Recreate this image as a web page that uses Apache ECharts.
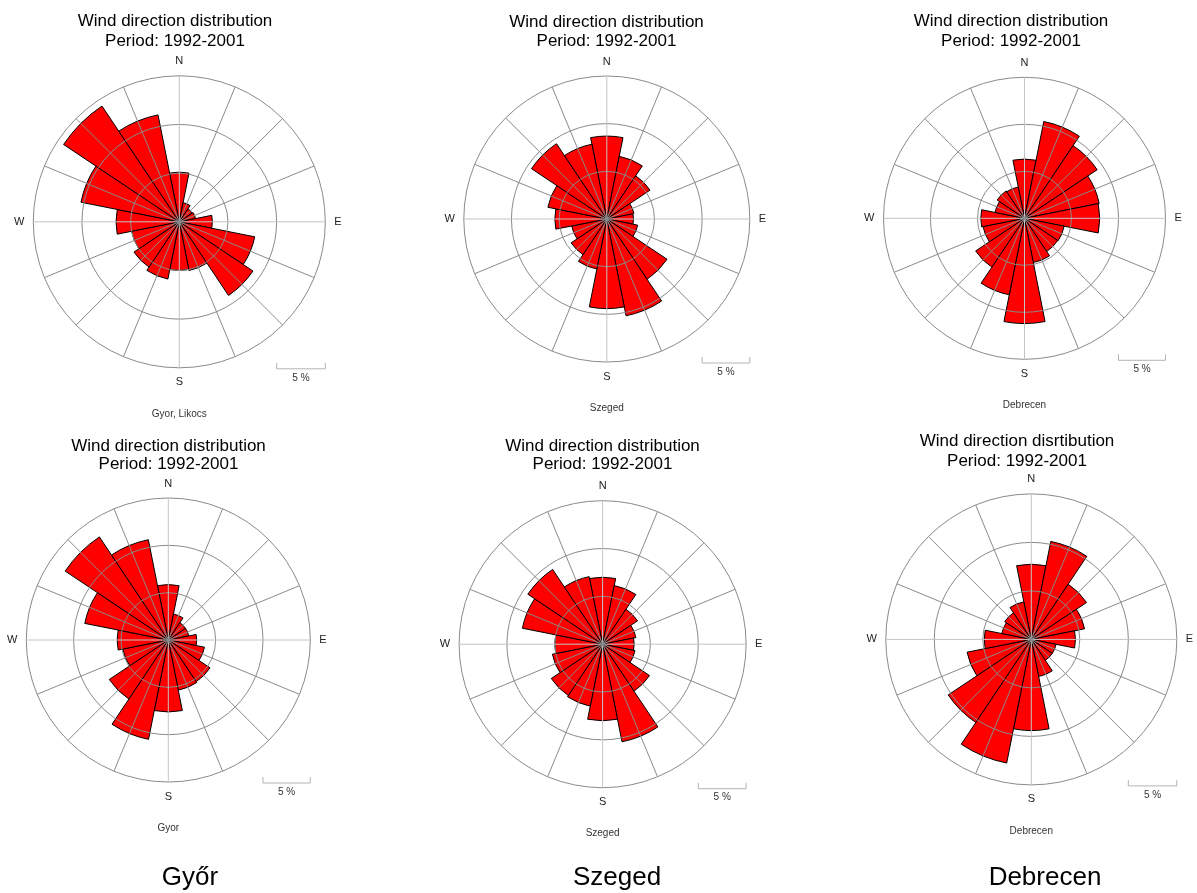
<!DOCTYPE html>
<html><head><meta charset="utf-8">
<script src="https://cdn.jsdelivr.net/npm/echarts@6/dist/echarts.min.js"></script>
<style>html,body{margin:0;padding:0;background:#fff}#c{width:1197px;height:893px}</style>
</head><body><div id="c"></div>
<script>
// ---- data (percent frequency per 22.5° sector, clockwise from N) ----
const directions = ['N','NNE','NE','ENE','E','ESE','SE','SSE','S','SSW','SW','WSW','W','WNW','NW','NNW'];
const gyorLikocs     = [5.1, 2.0, 1.6, 1.7, 3.4, 7.9, 9.1, 5.1, 5.0, 6.0, 5.6, 5.0, 6.5, 10.3, 14.3, 11.2];
const szegedTop      = [8.7, 6.7, 5.45, 2.9, 2.8, 3.3, 7.6, 10.35, 9.4, 5.35, 4.5, 3.75, 5.45, 6.3, 9.5, 8.0];
const debrecenTop    = [6.3, 10.5, 9.3, 8.1, 8.0, 4.3, 4.25, 4.8, 11.2, 8.3, 6.25, 4.5, 4.65, 3.2, 3.5, 3.4];
const gyor           = [5.85, 2.8, 2.2, 2.2, 3.0, 3.9, 5.3, 5.4, 7.6, 10.7, 7.5, 4.9, 5.4, 9.0, 13.1, 10.8];
const szegedBottom   = [7.0, 6.25, 4.4, 3.55, 3.3, 3.45, 5.9, 10.4, 8.0, 6.6, 6.45, 5.35, 5.0, 8.55, 9.4, 7.2];
const debrecenBottom = [7.75, 10.3, 6.85, 5.6, 4.55, 2.6, 2.6, 3.9, 9.4, 13.0, 10.3, 6.75, 4.85, 3.1, 3.3, 3.95];
const radiusMax = 15, radiusStep = 5;
const compassLabels = {0:'N', 90:'E', 180:'S', 270:'W'};
const scaleLabel = '5 %';
const titleLine1 = 'Wind direction distribution';
const titleLine1Typo = 'Wind direction disrtibution';
const titleLine2 = 'Period: 1992-2001';
const cityNames = ['Győr', 'Szeged', 'Debrecen'];

// ---- layout ----
const panels = [
  {data: gyorLikocs,     station: 'Gyor, Likocs', t1: titleLine1,     cx: 179.3,  cy: 221.8, r: 146,   tx: 175,  ty1: 21,  ty2: 41},
  {data: szegedTop,      station: 'Szeged',       t1: titleLine1,     cx: 606.8,  cy: 219,   r: 143,   tx: 606.5,ty1: 22,  ty2: 41},
  {data: debrecenTop,    station: 'Debrecen',     t1: titleLine1,     cx: 1024.5, cy: 218.3, r: 141,   tx: 1011, ty1: 21,  ty2: 41},
  {data: gyor,           station: 'Gyor',         t1: titleLine1,     cx: 168.3,  cy: 640,   r: 142,   tx: 168.5,ty1: 446, ty2: 464},
  {data: szegedBottom,   station: 'Szeged',       t1: titleLine1,     cx: 602.6,  cy: 644.2, r: 143.5, tx: 602.5,ty1: 446, ty2: 464},
  {data: debrecenBottom, station: 'Debrecen',     t1: titleLine1Typo, cx: 1031.3, cy: 639.4, r: 145.5, tx: 1017, ty1: 441, ty2: 461}
];
const cityPos = [[190, 878], [617, 878], [1045, 878]];
const FONT = '"Liberation Sans", Arial, Helvetica, sans-serif';

const polar = [], angleAxis = [], radiusAxis = [], series = [], graphic = [];
panels.forEach((p, i) => {
  const bi = 2 * i, gi = 2 * i + 1;
  polar.push({center: [p.cx, p.cy], radius: [0, p.r]});
  polar.push({center: [p.cx, p.cy], radius: [0, p.r]});
  angleAxis.push({polarIndex: bi, type: 'category', data: directions, startAngle: 90 + 11.25, clockwise: true,
    boundaryGap: true, axisLine: {show: false}, axisTick: {show: false}, axisLabel: {show: false},
    splitLine: {show: false}, splitArea: {show: false}});
  radiusAxis.push({polarIndex: bi, type: 'value', min: 0, max: radiusMax,
    axisLine: {show: false}, axisTick: {show: false}, axisLabel: {show: false}, splitLine: {show: false}});
  angleAxis.push({polarIndex: gi, type: 'value', min: 0, max: 360, interval: 22.5, startAngle: 90, clockwise: true, z: 5,
    axisLine: {show: false}, axisTick: {show: false},
    axisLabel: {show: true, margin: 9, color: '#222', fontSize: 11, fontFamily: FONT,
      formatter: v => compassLabels[v] || ''},
    splitLine: {show: true, lineStyle: {color: ['#c4c4c4', '#8a8a8a', '#8a8a8a', '#8a8a8a'], width: 1}}});
  radiusAxis.push({polarIndex: gi, type: 'value', min: 0, max: radiusMax, interval: radiusStep, z: 5,
    axisLine: {show: false}, axisTick: {show: false}, axisLabel: {show: false},
    splitLine: {show: true, lineStyle: {color: '#8a8a8a', width: 1}}});
  series.push({type: 'bar', coordinateSystem: 'polar', polarIndex: bi, data: p.data, barCategoryGap: '0%',
    itemStyle: {color: '#ff0000', borderColor: '#000', borderWidth: 1}, z: 2, silent: true});

  // titles
  graphic.push({type: 'text', x: p.tx, y: p.ty1, silent: true,
    style: {text: p.t1, font: '17px ' + FONT, fill: '#000', align: 'center', verticalAlign: 'middle'}});
  graphic.push({type: 'text', x: p.tx, y: p.ty2, silent: true,
    style: {text: titleLine2, font: '17px ' + FONT, fill: '#000', align: 'center', verticalAlign: 'middle'}});
  // scale bar (length = 5 % on the radius scale)
  const len = p.r * radiusStep / radiusMax;
  const x2 = p.cx + p.r, x1 = x2 - len, y = p.cy + p.r + 1;
  graphic.push({type: 'polyline', silent: true,
    shape: {points: [[x1, y - 6], [x1, y], [x2, y], [x2, y - 6]]},
    style: {stroke: '#b4b4b4', lineWidth: 1, fill: null}});
  graphic.push({type: 'text', x: (x1 + x2) / 2, y: y + 9, silent: true,
    style: {text: scaleLabel, font: '10px ' + FONT, fill: '#333', align: 'center', verticalAlign: 'middle'}});
  // station name
  graphic.push({type: 'text', x: p.cx, y: p.cy + p.r + 46, silent: true,
    style: {text: p.station, font: '10px ' + FONT, fill: '#333', align: 'center', verticalAlign: 'middle'}});
});
cityNames.forEach((n, i) => {
  graphic.push({type: 'text', x: cityPos[i][0], y: cityPos[i][1], silent: true,
    style: {text: n, font: '26px ' + FONT, fill: '#000', align: 'center', verticalAlign: 'middle'}});
});

const chart = echarts.init(document.getElementById('c'), null, {renderer: 'canvas'});
chart.setOption({backgroundColor: '#fff', animation: false, polar, angleAxis, radiusAxis, series, graphic});
</script></body></html>
